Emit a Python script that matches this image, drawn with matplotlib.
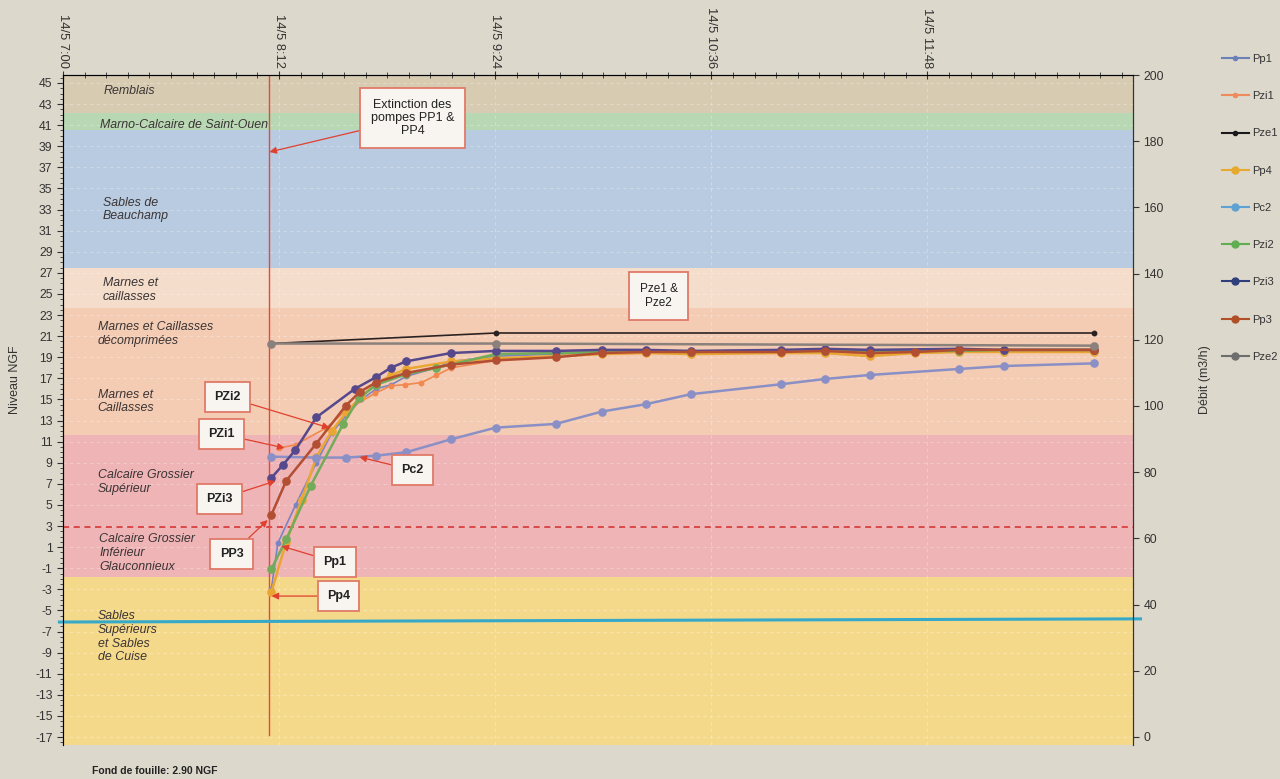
import matplotlib
matplotlib.use('Agg')
import matplotlib.pyplot as plt
from matplotlib.lines import Line2D
from matplotlib.ticker import MultipleLocator

plt.rcParams['font.family'] = ['Liberation Sans', 'DejaVu Sans']
plt.rcParams['axes.unicode_minus'] = False

# ---------------- data (time = minutes after 14/5 07:00, level = m NGF) -------------
x_tick_pos = [0, 72, 144, 216, 288]
x_tick_labels = ['14/5 7:00', '14/5 8:12', '14/5 9:24', '14/5 10:36', '14/5 11:48']

series_names = ['Pp1', 'Pzi1', 'Pze1', 'Pp4', 'Pc2', 'Pzi2', 'Pzi3', 'Pp3', 'Pze2']
legend_colors = ['#6b7fb8', '#ef8a5f', '#1a1a1a', '#e7a92e', '#5da2d2',
                 '#5fae52', '#2e3f7c', '#b15026', '#6e6e6e']
line_colors = ['#7c83c2', '#f0884f', '#2b2222', '#e9a633', '#8a90c6',
               '#72ab5a', '#56488c', '#b24f32', '#8a807c']
small_marker = [True, True, True, False, False, False, False, False, False]

t_Pp1 = [69.4, 71.6, 77.5, 84.4, 89.5, 94.4, 99.4, 104.4, 109.4, 114.4, 124.4, 129.4,
         144.2, 164.2, 179.5, 194.2, 209.2, 239.2, 253.8, 268.8, 283.8, 298.5, 313.5, 343.5]
v_Pp1 = [-3.0, 1.4, 5.0, 9.0, 11.8, 13.5, 15.0, 16.0, 16.4, 17.2, 18.0, 18.6,
         19.1, 19.3, 19.4, 19.4, 19.5, 19.6, 19.6, 19.5, 19.6, 19.6, 19.6, 19.6]

t_Pzi1 = [72.0, 77.5, 87.7, 94.4, 104.1, 109.2, 114.0, 119.4, 124.4, 129.4, 144.2, 164.2,
          179.5, 194.2, 209.2, 239.2, 253.8, 268.8, 283.8, 298.5, 313.5, 343.5]
v_Pzi1 = [10.4, 10.7, 12.3, 14.0, 15.6, 16.3, 16.4, 16.6, 17.3, 18.0, 18.7, 19.1,
          19.3, 19.4, 19.4, 19.4, 19.5, 19.3, 19.4, 19.5, 19.5, 19.5]

t_Pze1 = [69.4, 144.2, 343.5]
v_Pze1 = [20.3, 21.3, 21.3]

t_Pp4 = [69.4, 74.4, 79.5, 84.4, 89.5, 94.4, 99.4, 104.4, 109.4, 114.4, 129.4, 144.2,
         164.2, 179.5, 194.2, 209.2, 239.2, 253.8, 268.8, 283.8, 298.5, 313.5, 343.5]
v_Pp4 = [-3.3, 1.5, 5.5, 9.5, 12.0, 13.8, 15.3, 16.5, 17.3, 17.9, 18.6, 18.9,
         19.1, 19.3, 19.4, 19.3, 19.4, 19.4, 19.1, 19.4, 19.5, 19.5, 19.5]

t_Pc2 = [69.4, 84.4, 94.4, 104.4, 114.4, 129.4, 144.2, 164.2, 179.5, 194.2, 209.2,
         239.2, 253.8, 268.8, 298.5, 313.5, 343.5]
v_Pc2 = [9.58, 9.49, 9.49, 9.67, 10.0, 11.23, 12.33, 12.68, 13.85, 14.55, 15.5,
         16.44, 16.94, 17.32, 17.89, 18.17, 18.42]

t_Pzi2 = [69.4, 74.4, 82.5, 93.3, 98.6, 104.4, 114.4, 124.4, 144.2, 164.2, 179.5, 194.2,
          209.2, 239.2, 253.8, 268.8, 298.5, 313.5, 343.5]
v_Pzi2 = [-1.1, 1.75, 6.8, 12.65, 15.1, 16.4, 17.4, 18.0, 19.3, 19.4, 19.5, 19.6,
          19.5, 19.6, 19.6, 19.6, 19.6, 19.7, 19.7]

t_Pzi3 = [69.4, 73.3, 77.4, 84.4, 97.2, 104.2, 109.2, 114.2, 129.2, 144.2, 164.2, 179.5,
          194.2, 209.2, 239.2, 253.8, 268.8, 298.5, 313.5, 343.5]
v_Pzi3 = [7.56, 8.8, 10.2, 13.3, 16.0, 17.1, 18.0, 18.6, 19.4, 19.6, 19.6, 19.7,
          19.7, 19.6, 19.7, 19.8, 19.7, 19.8, 19.7, 19.7]

t_Pp3 = [69.4, 74.4, 84.2, 94.2, 98.8, 104.2, 114.2, 129.2, 144.2, 164.2, 179.5, 194.2,
         209.2, 239.2, 253.8, 268.8, 283.8, 298.5, 343.5]
v_Pp3 = [4.05, 7.3, 10.75, 14.4, 15.7, 16.6, 17.5, 18.3, 18.7, 19.0, 19.4, 19.5,
         19.5, 19.5, 19.6, 19.4, 19.5, 19.7, 19.7]

t_Pze2 = [69.4, 144.2, 343.5]
v_Pze2 = [20.3, 20.3, 20.1]

series_t = [t_Pp1, t_Pzi1, t_Pze1, t_Pp4, t_Pc2, t_Pzi2, t_Pzi3, t_Pp3, t_Pze2]
series_v = [v_Pp1, v_Pzi1, v_Pze1, v_Pp4, v_Pc2, v_Pzi2, v_Pzi3, v_Pp3, v_Pze2]

# geological layers (bottom, top, colour, label, label level)
layer_bottom = [42.16, 40.54, 27.46, 23.67, 11.63, -1.83, -17.76]
layer_top = [45.76, 42.16, 40.54, 27.46, 23.67, 11.63, -1.83]
layer_colors = ['#d7cbb2', '#b8d7b3', '#b9cbe0', '#f4ddcb', '#f4ccb4', '#eeb4b6', '#f5d98b']

layer_labels = ['Remblais', 'Marno-Calcaire de Saint-Ouen', 'Sables de\nBeauchamp',
                'Marnes et\ncaillasses', 'Marnes et Caillasses\ndécomprimées',
                'Marnes et\nCaillasses', 'Calcaire Grossier\nSupérieur',
                'Calcaire Grossier\nInférieur\nGlauconnieux',
                'Sables\nSupérieurs\net Sables\nde Cuise']
layer_label_t = [13.5, 12.3, 13.2, 13.2, 11.5, 11.5, 11.5, 12.0, 11.5]
layer_label_v = [44.2, 41.0, 33.0, 25.4, 21.2, 14.8, 7.2, 0.45, -7.5]

t_extinction = 68.8
fond_fouille = 2.90
nappe_t = [-1.2, 359.0]
nappe_v = [-6.1, -5.8]

# annotations: text, tip (t, v), box (t, v)
ann_texts = ['PZi2', 'PZi1', 'Pc2', 'PZi3', 'PP3', 'Pp1', 'Pp4']
ann_tip_t = [88.8, 73.8, 98.8, 70.8, 68.2, 72.8, 69.5]
ann_tip_v = [12.3, 10.4, 9.54, 7.27, 3.57, 1.1, -3.64]
ann_box_t = [54.8, 52.8, 116.5, 52.2, 56.2, 90.5, 91.8]
ann_box_v = [15.23, 11.72, 8.31, 5.56, 0.35, -0.41, -3.64]

# ---------------- figure ----------------
fig = plt.figure(figsize=(12.8, 7.79), dpi=100, facecolor='#ddd8cc')
ax = fig.add_axes([63 / 1280, 1 - 745 / 779, (1133 - 63) / 1280, (745 - 75) / 779])
ax.set_facecolor('none')
ax.set_xlim(0, 356.5)
ax.set_ylim(-17.758, 45.758)

for lo, hi, c in zip(layer_bottom, layer_top, layer_colors):
    ax.axhspan(lo, hi, color=c, lw=0, zorder=0)

for yv in range(-17, 46, 2):
    ax.axhline(yv, color='white', alpha=0.28, ls=(0, (3, 3)), lw=0.8, zorder=0.5)
for xv in x_tick_pos[1:]:
    ax.axvline(xv, color='white', alpha=0.28, ls=(0, (3, 3)), lw=0.8, zorder=0.5)

for txt, tt, vv in zip(layer_labels, layer_label_t, layer_label_v):
    ax.text(tt, vv, txt, style='italic', fontsize=8.9, color='#3a3434',
            ha='left', va='center', linespacing=1.2, zorder=1)

ax.axhline(fond_fouille, color='#d42a2a', ls=(0, (4, 3)), lw=1.1, zorder=2)
ax.plot([t_extinction, t_extinction], [45.758, -16.8], color='#e8483a', lw=1.0, zorder=2)
ax.plot(nappe_t, nappe_v, color='#36a9c9', lw=2.2, clip_on=False, zorder=4)

order = [2, 8, 4, 1, 0, 5, 3, 7, 6]
for i in order:
    ms = 3.2 if small_marker[i] else 5.2
    lw = 1.2 if small_marker[i] else 1.8
    ax.plot(series_t[i], series_v[i], color=line_colors[i], lw=lw, marker='o',
            ms=ms, zorder=3 + i * 0.01)

# axes styling
ax.xaxis.tick_top()
ax.set_xticks(x_tick_pos)
ax.set_xticklabels(x_tick_labels)
ax.xaxis.set_minor_locator(MultipleLocator(7.2))
ax.tick_params(axis='x', which='major', direction='inout', length=6, labelrotation=-90,
               labelsize=9.3, pad=2, colors='#333333')
ax.tick_params(axis='x', which='minor', direction='inout', length=4, color='#333333')
ax.set_yticks(range(-17, 46, 2))
ax.yaxis.set_minor_locator(MultipleLocator(0.5))
ax.tick_params(axis='y', which='major', direction='out', length=4, labelsize=8.8,
               colors='#333333')
ax.tick_params(axis='y', which='minor', direction='out', length=2, color='#333333')
for s in ['top', 'left', 'right']:
    ax.spines[s].set_color('#333333')
ax.spines['bottom'].set_visible(False)

ax2 = ax.twinx()
ax2.set_ylim(-2.42, 200)
ax2.set_yticks(range(0, 201, 20))
ax2.tick_params(axis='y', direction='out', length=4, labelsize=8.8, colors='#333333')
ax2.spines['bottom'].set_visible(False)
ax2.spines['right'].set_color('#333333')

fig.text(15 / 1280, 1 - 380 / 779, 'Niveau NGF', rotation=90, ha='center', va='center',
         fontsize=9, color='#333333')
fig.text(1205 / 1280, 1 - 380 / 779, 'Débit (m3/h)', rotation=90, ha='center',
         va='center', fontsize=9, color='#333333')
fig.text(92 / 1280, 1 - 771 / 779, 'Fond de fouille: 2.90 NGF', fontsize=7.5,
         fontweight='bold', color='#222222', ha='left', va='center')

# annotations
box_style = dict(fc='#f8f5f1', ec='#e07a68', lw=1.3)
arrow_style = dict(arrowstyle='-|>', color='#e0402e', lw=0.9, mutation_scale=10,
                   shrinkA=0, shrinkB=0)
for txt, tt, tv, bt, bv in zip(ann_texts, ann_tip_t, ann_tip_v, ann_box_t, ann_box_v):
    ax.annotate(txt, xy=(tt, tv), xytext=(bt, bv), ha='center', va='center',
                fontsize=9, fontweight='bold', color='#222222',
                bbox=dict(boxstyle='square,pad=0.75', **box_style),
                arrowprops=arrow_style, zorder=6)

ax.annotate('Extinction des\npompes PP1 &\nPP4', xy=(t_extinction, 38.46),
            xytext=(116.5, 41.68), ha='center', va='center', fontsize=9,
            color='#222222', linespacing=1.1,
            bbox=dict(boxstyle='square,pad=0.85', **box_style),
            arrowprops=arrow_style, zorder=6)
ax.text(198.5, 24.8, 'Pze1 &\nPze2', ha='center', va='center', fontsize=8.5,
        color='#222222', linespacing=1.3,
        bbox=dict(boxstyle='square,pad=0.9', **box_style), zorder=6)

# legend
handles = [Line2D([0], [0], color=c, lw=1.5, marker='o', ms=3 if sm else 5)
           for c, sm in zip(legend_colors, small_marker)]
fig.legend(handles, series_names, loc='upper left', bbox_to_anchor=(1212 / 1280, 1 - 44 / 779),
           frameon=False, fontsize=8, labelspacing=2.45, handlelength=2.4,
           handletextpad=0.3, labelcolor='#333333')

fig.savefig('out.png', dpi=100, facecolor=fig.get_facecolor())
